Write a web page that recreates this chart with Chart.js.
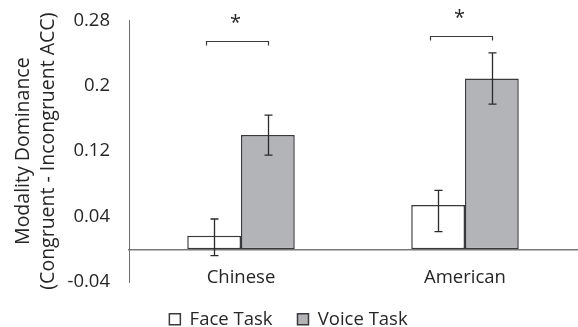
<!DOCTYPE html>
<html>
<head>
<meta charset="utf-8">
<script src="https://cdn.jsdelivr.net/npm/chart.js@4/dist/chart.umd.min.js"></script>
<style>
  html, body { margin: 0; padding: 0; background: #fff; }
  #wrap { width: 578px; height: 327px; }
</style>
</head>
<body>
<div id="wrap"><canvas id="modalityChart"></canvas></div>
<script>
const groups = ['Chinese', 'American'];
const seriesNames = ['Face Task', 'Voice Task'];
const faceTask = [0.0166, 0.0541];
const voiceTask = [0.1396, 0.2089];
const faceErrUp = [0.0204, 0.0180];
const faceErrDown = [0.0244, 0.0326];
const voiceErrUp = [0.0244, 0.0313];
const voiceErrDown = [0.0244, 0.0314];
const sigLevels = [0.255, 0.261];
const sigMarks = ['*', '*'];
const yTicks = [-0.04, 0.04, 0.12, 0.2, 0.28];
const yTitle = ['Modality Dominance', '(Congruent - Incongruent ACC)'];

const textColor = '#262626';
const fontFamily = '"Open Sans", sans-serif';

// error bars + significance brackets
const annotations = {
    id: 'annotations',
    afterDraw(chart) {
        const ctx = chart.ctx;
        const y = chart.scales.y;
        const sets = [
            [faceTask, faceErrUp, faceErrDown],
            [voiceTask, voiceErrUp, voiceErrDown]
        ];
        ctx.save();
        ctx.strokeStyle = '#2a2a2a';
        ctx.lineWidth = 1.3;
        sets.forEach(([vals, up, down], di) => {
            chart.getDatasetMeta(di).data.forEach((bar, i) => {
                const x = Math.round(bar.x) + 0.5;
                const yTop = y.getPixelForValue(vals[i] + up[i]);
                const yBot = y.getPixelForValue(vals[i] - down[i]);
                ctx.beginPath();
                ctx.moveTo(x, yTop); ctx.lineTo(x, yBot);
                ctx.moveTo(x - 4, yTop); ctx.lineTo(x + 4, yTop);
                ctx.moveTo(x - 4, yBot); ctx.lineTo(x + 4, yBot);
                ctx.stroke();
            });
        });

        const faceBars = chart.getDatasetMeta(0).data;
        const voiceBars = chart.getDatasetMeta(1).data;
        ctx.strokeStyle = '#3a3a3a';
        ctx.lineWidth = 1.2;
        ctx.fillStyle = textColor;
        ctx.font = '20px ' + fontFamily;
        ctx.textAlign = 'center';
        ctx.textBaseline = 'alphabetic';
        sigLevels.forEach((lvl, i) => {
            const x1 = Math.round(faceBars[i].x - 8) + 0.5;
            const x2 = Math.round(voiceBars[i].x) + 0.5;
            const by = Math.round(y.getPixelForValue(lvl)) + 0.5;
            ctx.beginPath();
            ctx.moveTo(x1, by + 4); ctx.lineTo(x1, by);
            ctx.lineTo(x2, by); ctx.lineTo(x2, by + 4);
            ctx.stroke();
            ctx.fillText(sigMarks[i], (x1 + x2) / 2 - 2, by - 13);
        });
        ctx.restore();
    }
};

new Chart(document.getElementById('modalityChart'), {
    type: 'bar',
    data: {
        labels: groups,
        datasets: [
            {
                label: seriesNames[0],
                data: faceTask,
                backgroundColor: '#ffffff',
                borderColor: '#3a3a3a',
                borderWidth: 1.5,
                borderSkipped: false
            },
            {
                label: seriesNames[1],
                data: voiceTask,
                backgroundColor: '#b3b4b7',
                borderColor: '#3a3a3a',
                borderWidth: 1.5,
                borderSkipped: false
            }
        ]
    },
    options: {
        responsive: true,
        maintainAspectRatio: false,
        animation: false,
        categoryPercentage: 0.48,
        barPercentage: 1.0,
        layout: {
            padding: { top: 20, right: 1, left: 0, bottom: -11.5 }
        },
        plugins: {
            tooltip: { enabled: false },
            legend: {
                position: 'bottom',
                labels: {
                    boxWidth: 11,
                    boxHeight: 11,
                    padding: 25,
                    color: textColor,
                    font: { family: fontFamily, size: 18.5 }
                }
            }
        },
        scales: {
            x: {
                position: { y: 0 },
                grid: { display: false },
                border: { display: true, color: '#7a7a7a', width: 1.5 },
                ticks: {
                    padding: 9,
                    color: textColor,
                    font: { family: fontFamily, size: 18.5 }
                }
            },
            xPad: {
                type: 'category',
                position: 'bottom',
                grid: { display: false },
                border: { display: false },
                ticks: { display: false },
                afterFit: (s) => { s.height = 3; }
            },
            y: {
                min: -0.04,
                max: 0.28,
                grid: { display: false },
                border: { display: true, color: '#6e6e6e', width: 1 },
                afterBuildTicks: (s) => { s.ticks = yTicks.map(v => ({ value: v })); },
                afterFit: (s) => { s.width = 129; },
                ticks: {
                    padding: 11,
                    color: textColor,
                    font: { family: fontFamily, size: 18.5, lineHeight: 1 },
                    callback: (v) => String(Number(v.toFixed(2)))
                },
                title: {
                    display: true,
                    text: yTitle,
                    color: textColor,
                    padding: { top: 10.5, bottom: 0 },
                    font: { family: fontFamily, size: 19.5, lineHeight: 1.28 }
                }
            }
        }
    },
    plugins: [annotations]
});
</script>
</body>
</html>
